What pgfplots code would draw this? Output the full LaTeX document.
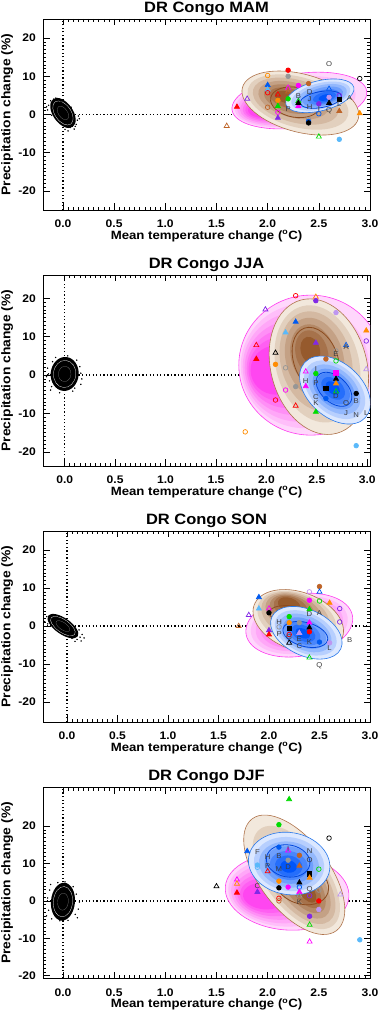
\documentclass[border=0pt]{standalone}
\usepackage{pgfplots}
\pgfplotsset{compat=1.18}
\usepackage{fontspec}
\setmainfont{Liberation Sans}[FakeStretch=1.1]
\definecolor{pkout}{RGB}{255,215,252}
\definecolor{pkin}{RGB}{255,70,240}
\definecolor{pkline}{RGB}{255,60,240}
\definecolor{brout}{RGB}{242,232,220}
\definecolor{brin}{RGB}{150,90,45}
\definecolor{brline}{RGB}{175,115,75}
\definecolor{brdark}{RGB}{140,75,30}
\definecolor{blout}{RGB}{220,232,255}
\definecolor{blin}{RGB}{0,85,250}
\definecolor{blline}{RGB}{40,120,235}
\definecolor{bldark}{RGB}{0,70,220}
\definecolor{cR}{RGB}{255,0,0}
\definecolor{cO}{RGB}{255,140,0}
\definecolor{cN}{RGB}{190,100,40}
\definecolor{cG}{RGB}{0,220,0}
\definecolor{cB}{RGB}{0,90,240}
\definecolor{cL}{RGB}{90,185,250}
\definecolor{cP}{RGB}{130,40,230}
\definecolor{cV}{RGB}{190,150,240}
\definecolor{cM}{RGB}{255,0,255}
\definecolor{cY}{RGB}{150,150,150}
\definecolor{cK}{RGB}{0,0,0}
\definecolor{cT}{RGB}{60,60,60}
\tikzset{
 fc/.style={mark=*,mark size=2.3pt,draw=#1,fill=#1},
 oc/.style={mark=o,mark size=2.3pt,draw=#1},
 ft/.style={mark=triangle*,mark size=2.9pt,draw=#1,fill=#1},
 ot/.style={mark=triangle,mark size=2.9pt,draw=#1},
 fs/.style={mark=square*,mark size=2.2pt,draw=#1,fill=#1}}
% nested shaded ellipse: cx cy a b rot dx dy palette smin
\newcommand\nest[9]{%
  \pgfplotsinvokeforeach{0,17,33,50,67,83,100}{%
    \fill[#8in!##1!#8out, rotate around={#5:(axis cs:#1,#2)}]
      ([xshift={(#6)*##1/100*1pt}, yshift={(#7)*##1/100*1pt}]axis cs:#1,#2)
      ellipse [x radius={(#3)*(1-(1-#9)*##1/100)*1pt}, y radius={(#4)*(1-(1-#9)*##1/100)*1pt}];}%
  \draw[#8line, line width=0.6pt, rotate around={#5:(axis cs:#1,#2)}] (axis cs:#1,#2) ellipse [x radius=#3pt, y radius=#4pt];}
\newcommand\elline[6]{\draw[#6, line width=0.8pt, rotate around={#5:(axis cs:#1,#2)}] (axis cs:#1,#2) ellipse [x radius=#3pt, y radius=#4pt];}
\newcommand\blob[5]{%
  \fill[black, rotate around={#5:(axis cs:#1,#2)}] (axis cs:#1,#2) ellipse [x radius=#3pt, y radius=#4pt];
  \draw[white, line width=0.25pt, rotate around={#5:(axis cs:#1,#2)}] (axis cs:#1,#2) ellipse [x radius={#3*0.8pt}, y radius={#4*0.8pt}];
  \draw[gray, line width=0.2pt, rotate around={#5:(axis cs:#1,#2)}] (axis cs:#1,#2) ellipse [x radius={#3*0.45pt}, y radius={#4*0.45pt}];}
\pgfplotsset{
 panel/.style={scale only axis, width=327pt, height=191pt, anchor=south west,
  axis line style={line width=0.7pt},
  xtick={0,0.5,1,1.5,2,2.5,3}, xticklabels={0.0,0.5,1.0,1.5,2.0,2.5,3.0},
  ytick={-20,-10,0,10,20}, yticklabels={-20,-10,0,10,20},
  minor x tick num=9, minor y tick num=9,
  tick align=inside, major tick length=6.5pt, minor tick length=3.3pt,
  every tick/.style={black, line width=0.6pt},
  tick label style={font=\fontsize{11}{12}\selectfont\bfseries},
  xticklabel style={anchor=base, yshift=-17.7pt},
  yticklabel style={anchor=east, inner sep=0pt, xshift=-7pt},
  every axis title/.style={at={(axis description cs:0.5,1.034)}, anchor=base, font=\fontsize{15}{17}\selectfont\bfseries},
  every axis x label/.style={at={(axis description cs:0.5,-0.1534)}, anchor=base, font=\fontsize{12}{14}\selectfont\bfseries},
  every axis y label/.style={at={(axis description cs:-0.0997,0.5)}, rotate=90, anchor=base, font=\fontsize{12.6}{14}\selectfont\bfseries},
  xlabel={Mean temperature change (\textsuperscript{o}C)},
  ylabel={Precipitation change (\%)}},
 mk/.style={scatter, only marks, scatter src=explicit symbolic, line width=0.7pt,
  scatter/classes={
   Rc={fc=cR},Ro={oc=cR},Rt={ft=cR},Ru={ot=cR},Rs={fs=cR},
   Oc={fc=cO},Oo={oc=cO},Ot={ft=cO},Ou={ot=cO},Os={fs=cO},
   Nc={fc=cN},No={oc=cN},Nt={ft=cN},Nu={ot=cN},Ns={fs=cN},
   Gc={fc=cG},Go={oc=cG},Gt={ft=cG},Gu={ot=cG},Gs={fs=cG},
   Bc={fc=cB},Bo={oc=cB},Bt={ft=cB},Bu={ot=cB},Bs={fs=cB},
   Lc={fc=cL},Lo={oc=cL},Lt={ft=cL},Lu={ot=cL},Ls={fs=cL},
   Pc={fc=cP},Po={oc=cP},Pt={ft=cP},Pu={ot=cP},Ps={fs=cP},
   Vc={fc=cV},Vo={oc=cV},Vt={ft=cV},Vu={ot=cV},Vs={fs=cV},
   Mc={fc=cM},Mo={oc=cM},Mt={ft=cM},Mu={ot=cM},Ms={fs=cM},
   Yc={fc=cY},Yo={oc=cY},Yt={ft=cY},Yu={ot=cY},Ys={fs=cY},
   Kc={fc=cK},Ko={oc=cK},Kt={ft=cK},Ku={ot=cK},Ks={fs=cK}}},
 lt/.style={only marks, mark=none, nodes near coords, point meta=explicit symbolic,
  nodes near coords style={anchor=center, inner sep=0pt, font=\fontsize{7}{8}\selectfont, text=cT}},
 dotl/.style={black, line width=1.25pt, dash pattern=on 1.25pt off 2.3pt},
 scat/.style={only marks, mark=*, mark size=0.5pt, black}
}
\begin{document}
\begin{tikzpicture}
\path[use as bounding box] (0pt,0pt) rectangle (380pt,1013pt);
% ---------------- MAM
\begin{axis}[panel, at={(43pt,803pt)}, xmin=-0.195, xmax=3.0, ymin=-25, ymax=25, title={DR Congo MAM}]
\addplot[dotl] coordinates {(0,-25) (0,25)};
\addplot[dotl] coordinates {(-0.195,0) (3.0,0)};
\nest{2.31}{3.65}{68}{27}{8}{-25}{-3}{pk}{0.4}
\nest{2.32}{3.0}{60}{29}{-15}{-15}{2}{br}{0.2}
\elline{2.27}{3.2}{25}{15}{-10}{brdark}
\nest{2.51}{4.9}{35}{15}{14}{5}{-3}{bl}{0.2}
\elline{2.52}{3.9}{21}{8}{10}{bldark}
\blob{0}{0.4}{17}{10}{-55}
\addplot[scat] coordinates {(-0.12,3.6) (-0.09,4.0) (-0.14,2.4) (-0.05,3.9) (0.1,-2.2) (0.12,-3.1) (0.07,-3.4) (0.02,-3.9) (0.14,-1.5) (0.15,-0.4) (-0.15,1.2) (-0.11,-0.2) (0.08,1.9) (0.05,-4.3) (-0.02,3.5) (0.11,-3.8) (-0.16,2.0) (0.13,-2.6) (-0.07,4.3) (0.16,-1.1)};
\addplot[mk] table[meta=c]{
x y c
2.2 11.6 Rc
2.2 10.0 Yc
2.0 10.2 Oo
2.0 7.7 Bt
2.0 6.5 Lt
2.0 5.7 Ro
2.0 1.9 No
2.1 5.2 Ru
2.1 3.7 Oc
2.1 2.2 Gt
2.1 0.6 Mo
2.1 -0.9 Pt
2.2 7.0 Mu
2.2 6.0 Nu
2.2 4.1 Gc
2.3 7.6 Mc
2.3 3.5 Gu
2.3 2.2 Mt
2.3 3.0 Kt
2.4 8.1 Nc
2.4 -1.3 Yo
2.4 -1.8 Bc
2.4 -2.2 Kc
2.5 2.8 Pc
2.5 0.2 Bo
2.6 6.7 Bu
2.6 4.5 Vc
2.6 3.0 Kt
2.7 5.0 Po
2.7 3.9 Ks
2.7 0.9 Nt
2.9 9.4 Ko
2.9 0.3 Ot
2.7 -6.5 Lc
2.5 -5.8 Gu
1.7 2.0 Rt
1.8 4.1 Pu
1.6 -3.0 Nu
};
\addplot[lt] table[meta=l]{
x y l
2.6 13.2 O
2.41 5.9 D
2.3 4.8 B
2.41 4.1 J
2.41 2.0 H
2.2 1.5 P
2.8 4.3 A
2.7 2.6 L
2.6 0.9 Q
2.5 1.3 I
};
\end{axis}
% ---------------- JJA
\begin{axis}[panel, at={(43pt,547pt)}, xmin=-0.215, xmax=3.027, ymin=-23.7, ymax=26.1, title={DR Congo JJA}]
\addplot[dotl] coordinates {(0,-23.7) (0,26.1)};
\addplot[dotl] coordinates {(-0.215,0) (3.027,0)};
\nest{2.44}{2.6}{72}{70}{0}{-35}{-5}{pk}{0.35}
\nest{2.52}{2.2}{69}{48}{-75}{-18}{-4}{br}{0.2}
\elline{2.49}{3.9}{34}{22}{-70}{brdark}
\nest{2.68}{-3.9}{41}{27}{-42}{-3}{0}{bl}{0.2}
\elline{2.67}{-3.7}{21}{13}{-42}{bldark}
\blob{0}{0.3}{17}{14}{85}
\addplot[scat] coordinates {(-0.16,0.3) (0.16,0.5) (-0.15,-1.5) (0.15,2.2) (-0.12,3.5) (0.1,-3.4) (-0.05,-4.6) (0.03,5.0) (0.12,3.9) (-0.13,-3.0) (0.17,-1.0) (-0.17,1.8) (0.08,-4.2) (-0.09,4.6) (-0.18,-0.4) (-0.14,-3.9) (0.16,-2.4)};
\addplot[mk] table[meta=c]{
x y c
2.29 20.7 Ro
2.49 20.4 Ou
2.49 19.4 Pc
1.99 17.1 Pu
2.69 16.3 Vc
2.29 13.9 Bt
2.19 11.1 Lt
2.99 11.6 Ot
2.99 8.9 Po
1.9 7.8 Ru
2.49 8.4 Pt
2.79 7.8 Bu
2.09 5.8 Ku
1.9 4.2 Rt
2.69 6.3 Yo
2.59 4.2 Nc
2.69 3.7 Go
2.09 2.8 Oc
2.19 1.9 Yo
2.39 0.9 Mu
2.99 1.5 Vu
2.49 0.4 Gc
2.69 0.6 Ms
2.69 -1.0 Kt
2.69 -2.2 Ot
2.39 -2.9 Mt
2.29 -3.0 Yc
2.59 -3.5 Ks
2.19 -3.9 Mo
2.69 -4.3 Gu
2.59 -6.1 Bc
2.89 -4.8 Kc
2.09 -6.5 Ro
2.29 -8.0 Ru
2.49 -9.6 Gt
1.79 -14.8 Oo
2.89 -18.4 Lc
};
\addplot[lt] table[meta=l]{
x y l
2.39 -1.6 H
2.49 -2.0 P
2.49 -5.7 C
2.49 -7.3 K
2.79 -7.4 O
2.79 -10.0 J
2.89 -10.3 N
2.99 -10.0 L
2.89 -6.7 B
2.79 7.2 A
2.69 5.6 E
2.49 1.5 I
2.69 -5.5 D
};
\end{axis}
% ---------------- SON
\begin{axis}[panel, at={(43pt,291pt)}, xmin=-0.237, xmax=3.0, ymin=-25.2, ymax=25, title={DR Congo SON}]
\addplot[dotl] coordinates {(0,-25.2) (0,25)};
\addplot[dotl] coordinates {(-0.237,0) (3.0,0)};
\nest{2.30}{0.26}{54}{31}{10}{0}{0}{pk}{0.45}
\nest{2.29}{1.3}{47}{29}{-20}{-14}{12}{br}{0.25}
\elline{2.24}{2.6}{24}{10}{-10}{brdark}
\nest{2.37}{-1.75}{38}{23}{-25}{-3}{-2}{bl}{0.2}
\elline{2.36}{-2.2}{23}{12}{-15}{bldark}
\blob{-0.04}{0}{18}{8}{-35}
\addplot[scat] coordinates {(0.13,-2.9) (0.1,-3.5) (0.15,-2.2) (0.05,-3.2) (-0.2,2.5) (-0.17,1.9) (-0.22,1.2) (-0.12,2.9) (0.12,-1.0) (-0.15,0.2) (0.08,-4.0) (0.14,-3.9) (-0.08,2.6) (0.03,-2.6) (0.17,-3.1) (-0.19,0.6)};
\addplot[mk] table[meta=c]{
x y c
2.50 10.4 Nc
2.40 9.0 Vo
2.50 9.0 Bu
1.90 7.6 Bt
2.40 6.8 Mc
2.50 6.6 Go
2.60 6.1 Ot
2.70 4.6 Po
1.90 4.6 Lt
2.00 4.6 Mu
2.40 4.4 Gt
2.00 3.5 Kc
1.80 2.9 Pu
2.20 2.5 Gc
2.70 1.1 Po
2.20 0.9 Oc
2.30 0.9 Yc
2.10 -0.2 Yo
2.40 0.9 Mt
2.20 -0.6 Ks
2.40 -0.4 Kt
2.40 -1.5 Rc
2.00 -1.1 Pt
2.00 -2.2 Rt
2.30 -1.8 Vt
2.20 -2.2 Ro
2.20 -4.4 Ku
2.50 -4.2 Bc
2.60 -4.4 Vc
2.40 -8.3 Gu
1.70 0.0 Nu
};
\addplot[lt] table[meta=l]{
x y l
2.10 1.0 H
2.10 -2.2 P
2.50 3.5 A
2.40 3.2 D
2.80 -3.8 B
2.60 -5.7 L
2.50 -10.5 Q
2.40 -4.2 K
2.30 -5.3 C
2.20 -3.0 G
2.30 -3.5 E
};
\end{axis}
% ---------------- DJF
\begin{axis}[panel, at={(43pt,34.7pt)}, xmin=-0.195, xmax=3.0, ymin=-20.7, ymax=30.4, title={DR Congo DJF}]
\addplot[dotl] coordinates {(0,-20.7) (0,30.4)};
\addplot[dotl] coordinates {(-0.195,0) (3.0,0)};
\nest{2.19}{2.4}{62}{38}{-5}{-22}{-6}{pk}{0.35}
\nest{2.26}{7.0}{70}{35}{-53}{20}{0}{br}{0.2}
\elline{2.33}{4.6}{28}{20}{-20}{brdark}
\nest{2.21}{10.0}{41}{31}{-10}{0}{-3}{bl}{0.2}
\elline{2.2}{10.7}{22}{16}{-10}{bldark}
\blob{0}{-0.2}{19}{12}{85}
\addplot[scat] coordinates {(-0.14,-2.5) (0.13,1.8) (-0.13,2.9) (0.12,-3.6) (-0.05,4.9) (0.05,-5.2) (-0.16,-4.0) (0.16,-0.3) (-0.11,-4.8) (0.1,3.8) (0.14,-4.5) (-0.15,0.8) (0.02,5.1) (-0.03,-5.3) (0.15,-2.2) (-0.12,4.4)};
\addplot[mk] table[meta=c]{
x y c
2.21 27.2 Gt
2.11 20.4 Gc
2.60 16.8 Ko
2.11 14.4 Bc
2.20 13.5 Mu
1.80 13.3 Bt
2.31 12.2 Nc
2.20 10.9 Yc
2.31 9.4 Nt
1.90 9.6 Lc
1.90 9.0 Lo
2.00 7.9 Ru
2.50 8.5 Go
2.41 7.2 Ks
2.41 6.2 Ot
2.11 5.3 Oc
2.31 4.9 Kt
1.70 5.7 Mu
1.70 4.6 Ou
1.50 3.9 Ku
2.31 3.7 Bo
2.20 3.7 Mc
2.11 3.5 Kc
1.70 2.2 Rt
1.90 2.4 Pt
2.50 2.9 Yo
2.31 2.4 Mt
2.31 1.4 Yu
2.41 1.4 Po
2.71 1.7 Vu
2.50 0.0 Rc
2.11 0.7 Ro
2.11 0.0 No
2.50 -2.3 Vc
2.41 -4.1 Pc
2.41 -6.4 Gu
2.41 -10.9 Mu
2.90 -10.4 Lc
};
\addplot[lt] table[meta=l]{
x y l
1.9 13.1 F
2.11 11.9 B
2.0 11.6 H
2.2 14.0 I
2.41 13.3 N
2.41 10.9 O
2.0 9.3 P
2.11 8.6 M
2.2 9.1 D
1.9 3.9 C
2.41 2.9 Q
2.31 -0.35 K
};
\end{axis}
\end{tikzpicture}
\end{document}
